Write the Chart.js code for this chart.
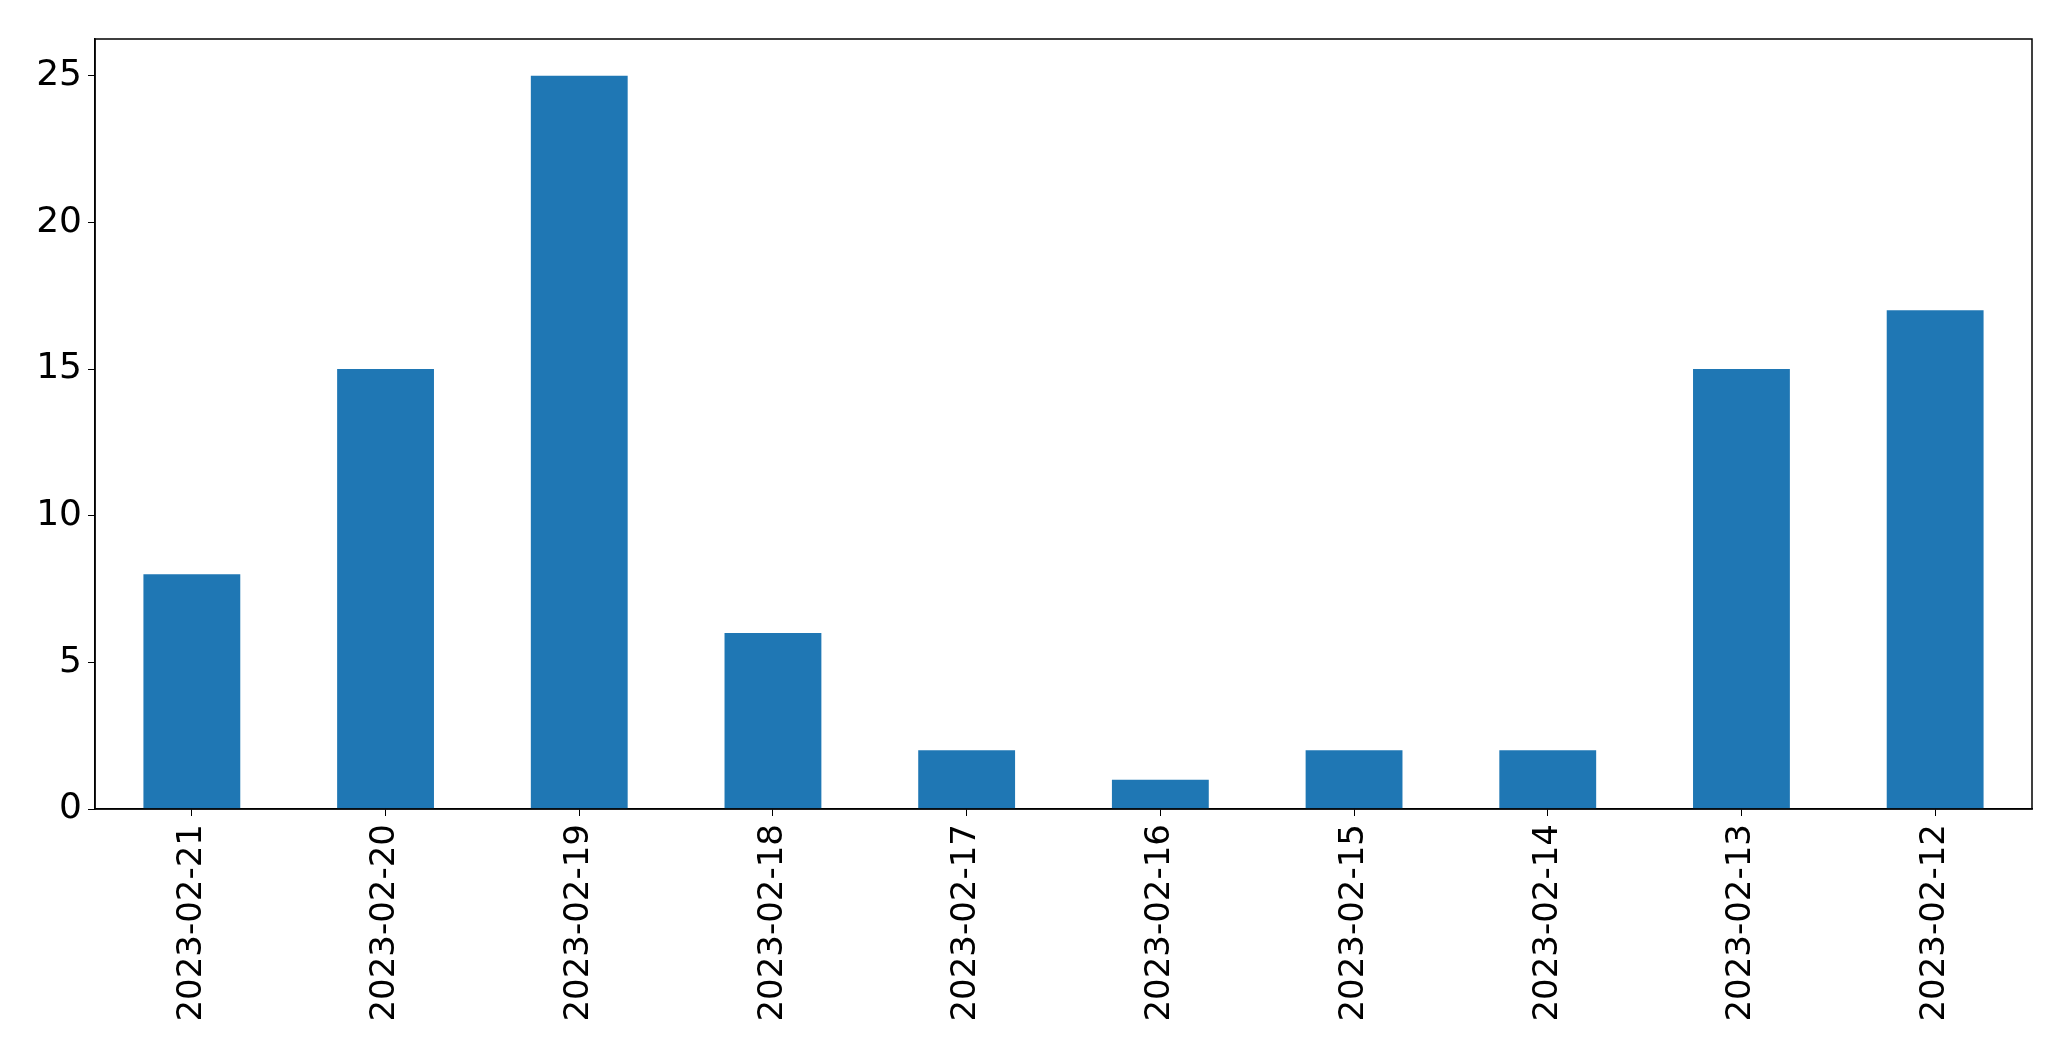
<!DOCTYPE html>
<html>
<head>
<meta charset="utf-8">
<script src="https://cdn.jsdelivr.net/npm/chart.js@4"></script>
<style>
    html, body { margin: 0; padding: 0; background: #fff; }
    #wrap { width: 2071px; height: 1061px; }
</style>
</head>
<body>
<div id="wrap"><canvas id="barChart" width="2071" height="1061"></canvas></div>
<script>
// values
var dates  = ['2023-02-21', '2023-02-20', '2023-02-19', '2023-02-18', '2023-02-17',
              '2023-02-16', '2023-02-15', '2023-02-14', '2023-02-13', '2023-02-12'];
var counts = [8, 15, 25, 6, 2, 1, 2, 2, 15, 17];
var yTicks = [0, 5, 10, 15, 20, 25];

// draw the box round the plot like matplotlib spines
var frame = {
    id: 'frame',
    afterDraw: function(chart) {
        var a = chart.chartArea, c = chart.ctx;
        c.save();
        c.strokeStyle = '#000';
        c.lineWidth = 1.5;
        c.strokeRect(a.left, a.top, a.right - a.left, a.bottom - a.top);
        c.restore();
    }
};

var xFont = { family: 'DejaVu Sans', size: 34 };
var yFont = { family: 'DejaVu Sans', size: 36 };

var ctx = document.getElementById('barChart').getContext('2d');
var myChart = new Chart(ctx, {
    type: 'bar',
    data: {
        labels: dates,
        datasets: [{
            data: counts,
            backgroundColor: '#1f77b4',
            barPercentage: 0.5,
            categoryPercentage: 1.0
        }]
    },
    options: {
        responsive: false,
        animation: false,
        layout: { padding: { left: 0, top: 39, right: 39, bottom: 0 } },
        plugins: { legend: { display: false }, tooltip: { enabled: false } },
        scales: {
            x: {
                offset: true,
                grid: { drawOnChartArea: false, drawTicks: true, tickLength: 7, color: '#000', offset: false },
                border: { display: true, color: '#000', width: 1.5 },
                ticks: { font: xFont, color: '#000', minRotation: 90, maxRotation: 90, padding: 8, autoSkip: false },
                afterFit: function(scale) { scale.height = 252; }
            },
            y: {
                min: 0,
                max: 26.25,
                grid: { drawOnChartArea: false, drawTicks: true, tickLength: 7, color: '#000' },
                border: { display: true, color: '#000', width: 1.5 },
                ticks: { font: yFont, color: '#000', stepSize: 5, padding: 6 },
                afterBuildTicks: function(scale) {
                    scale.ticks = yTicks.map(function(v) { return { value: v }; });
                },
                afterFit: function(scale) { scale.width = 95; }
            }
        }
    },
    plugins: [frame]
});
</script>
</body>
</html>
